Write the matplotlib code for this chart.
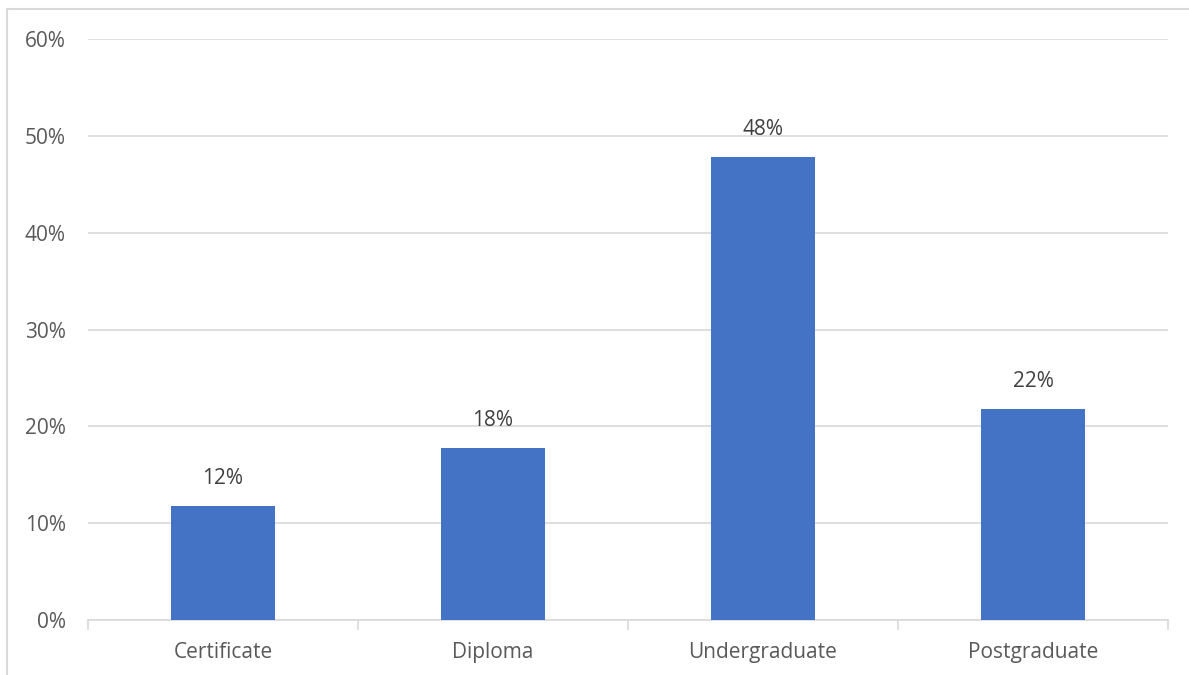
import matplotlib.pyplot as plt
from matplotlib.patches import Rectangle
from matplotlib.ticker import FuncFormatter, FixedLocator

categories = ['Certificate', 'Diploma', 'Undergraduate', 'Postgraduate']
shares = [11.8, 17.8, 47.8, 21.8]
labels = ['12%', '18%', '48%', '22%']

plt.rcParams['font.family'] = ['Open Sans', 'DejaVu Sans']
text_col = '#595959'
grid_col = '#d9d9d9'

fig = plt.figure(figsize=(11.89, 6.75), dpi=100)
# chart frame (only top/left visible in the original crop)
fig.patches.append(Rectangle((7 / 1189, -0.1), 1.2, 1 - 9 / 675 + 0.1,
                             transform=fig.transFigure, fill=False,
                             edgecolor=grid_col, linewidth=1.5))

ax = fig.add_axes([88 / 1189, 1 - 620 / 675, 1080 / 1189, 581 / 675])
x = range(len(categories))
bars = ax.bar(x, shares, width=0.385, color='#4472c4', zorder=3)

for b, lab in zip(bars, labels):
    ax.annotate(lab, (b.get_x() + b.get_width() / 2, b.get_height()),
                xytext=(0, 12), textcoords='offset points',
                ha='center', va='bottom', fontsize=15, color='#404040')

ax.set_xlim(-0.5, 3.5)
ax.set_ylim(0, 60)
ax.set_yticks(range(0, 61, 10))
ax.yaxis.set_major_formatter(FuncFormatter(lambda v, p: f'{v:.0f}%'))
ax.set_xticks(list(x))
ax.set_xticklabels(categories)
ax.xaxis.set_minor_locator(FixedLocator([-0.5, 0.5, 1.5, 2.5, 3.5]))

ax.grid(axis='y', color=grid_col, linewidth=1.2, zorder=0)
for s in ['top', 'right', 'left']:
    ax.spines[s].set_visible(False)
ax.spines['bottom'].set_color(grid_col)
ax.spines['bottom'].set_linewidth(1.2)

ax.tick_params(axis='y', length=0, pad=16, labelsize=15, labelcolor=text_col)
ax.tick_params(axis='x', which='major', length=0, pad=16, labelsize=15,
               labelcolor=text_col)
ax.tick_params(axis='x', which='minor', length=7, width=1.2, color=grid_col)

fig.savefig('out.png', dpi=100)
